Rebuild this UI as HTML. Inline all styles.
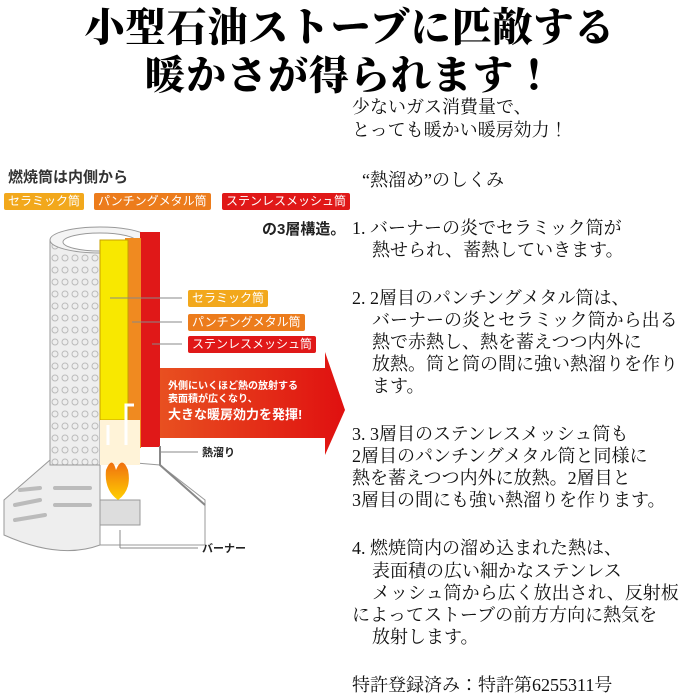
<!DOCTYPE html>
<html><head><meta charset="utf-8"><style>
body{margin:0;width:700px;height:700px;background:#fff;overflow:hidden;position:relative;font-family:"Liberation Serif","Noto Serif CJK JP","Noto Serif CJK SC",serif;}
.t{position:absolute;left:0;width:700px;text-align:center;font-weight:900;font-size:40px;line-height:40px;color:#000;letter-spacing:1px}
.l{position:absolute;font-size:18px;line-height:20px;white-space:nowrap;color:#111}
.s{position:absolute;font-family:"Liberation Sans","Noto Sans CJK JP",sans-serif;white-space:nowrap}
.tag{position:absolute;font-family:"Liberation Sans","Noto Sans CJK JP",sans-serif;font-size:12px;line-height:17px;color:#fff;padding:0 4px;border-radius:2px;white-space:nowrap}
</style></head><body>
<div class="t" style="top:8px">小型石油ストーブに匹敵する</div>
<div class="t" style="top:56px">暖かさが得られます！</div>

<svg style="position:absolute;left:0;top:0" width="350" height="560">
<defs>
<pattern id="dots" width="10" height="12" patternUnits="userSpaceOnUse"><rect width="10" height="12" fill="#eee"/><circle cx="5" cy="6" r="3" fill="none" stroke="#bbb" stroke-width="1"/></pattern>
<linearGradient id="ar" x1="0" x2="1"><stop offset="0" stop-color="#e85020"/><stop offset="1" stop-color="#e01010"/></linearGradient>
<linearGradient id="fl" x1="0" y1="0" x2="0" y2="1"><stop offset="0" stop-color="#f07010"/><stop offset="1" stop-color="#ffd000"/></linearGradient>
</defs>
<path d="M50 460 L4 500 L4 535 Q60 560 100 545 L100 460Z" fill="#eee" stroke="#999"/>
<path d="M100 460 L100 545 L205 545 L205 500 L160 465Z" fill="#fff" stroke="#999"/>
<rect x="100" y="500" width="40" height="25" fill="#ddd" stroke="#999"/>
<g stroke="#bbb" stroke-width="4" fill="none" stroke-linecap="round"><path d="M20 490 L40 488"/><path d="M15 505 L40 500"/><path d="M15 520 L45 515"/><path d="M55 488 L90 488"/><path d="M55 505 L90 505"/></g>
<path d="M50 240 L50 465 L100 465 L100 232 Q60 230 50 240Z" fill="url(#dots)" stroke="#999"/>
<ellipse cx="100" cy="240" rx="50" ry="13" fill="#f4f4f4" stroke="#999"/>
<ellipse cx="100" cy="242" rx="37" ry="9" fill="#fff" stroke="#999"/>
<rect x="140" y="232" width="20" height="215" fill="#e01818"/>
<rect x="125" y="238" width="16" height="210" fill="#f08a20"/>
<rect x="100" y="240" width="28" height="180" fill="#f8e800" stroke="#c8a000"/>
<rect x="100" y="420" width="40" height="45" fill="#fff3d8"/>
<path d="M160 446 L160 465 L205 505" fill="none" stroke="#888" stroke-width="2"/>
<path d="M160 368 L325 368 L325 352 L345 410 L325 455 L325 438 L160 438Z" fill="url(#ar)"/>
<path d="M106 470 Q112 455 116 470 Q122 455 128 470 Q132 490 118 500 Q104 490 106 470Z" fill="url(#fl)"/>
<g stroke="#fff" stroke-width="3" fill="none"><path d="M108 445 L108 425"/><path d="M126 445 L126 405 L134 405"/></g>
<g stroke="#888" stroke-width="1"><line x1="110" y1="298" x2="182" y2="298"/><line x1="132" y1="322" x2="182" y2="322"/><line x1="152" y1="344" x2="182" y2="344"/><line x1="160" y1="452" x2="198" y2="452"/><line x1="120" y1="530" x2="120" y2="548"/><line x1="120" y1="548" x2="198" y2="548"/></g>
</svg>

<div class="s" style="left:8px;top:166px;font-size:15px;font-weight:bold;color:#333">燃焼筒は内側から</div>
<div class="tag" style="left:4px;top:193px;background:#f2a81c">セラミック筒</div>
<div class="tag" style="left:94px;top:193px;background:#ec7c1c">パンチングメタル筒</div>
<div class="tag" style="left:222px;top:193px;background:#e01818">ステンレスメッシュ筒</div>
<div class="s" style="left:262px;top:218px;font-size:15px;font-weight:bold;color:#222">の3層構造。</div>
<div class="tag" style="left:188px;top:290px;background:#f2a81c">セラミック筒</div>
<div class="tag" style="left:188px;top:314px;background:#ec7c1c">パンチングメタル筒</div>
<div class="tag" style="left:188px;top:336px;background:#e01818">ステンレスメッシュ筒</div>
<div class="s" style="left:168px;top:380px;font-size:10px;line-height:13px;color:#fff;font-weight:bold">外側にいくほど熱の放射する<br>表面積が広くなり、<br><span style="font-size:13px;line-height:18px">大きな暖房効力を発揮!</span></div>
<div class="s" style="left:202px;top:444px;font-size:11px;font-weight:bold;color:#222">熱溜り</div>
<div class="s" style="left:202px;top:540px;font-size:11px;font-weight:bold;color:#222">バーナー</div>

<div class="l" style="left:352px;top:97px">少ないガス消費量で、</div>
<div class="l" style="left:352px;top:120px">とっても暖かい暖房効力！</div>
<div class="l" style="left:362px;top:170px">“熱溜め”のしくみ</div>
<div class="l" style="left:352px;top:218px">1. バーナーの炎でセラミック筒が</div>
<div class="l" style="left:372px;top:240px">熱せられ、蓄熱していきます。</div>
<div class="l" style="left:352px;top:288px">2. 2層目のパンチングメタル筒は、</div>
<div class="l" style="left:372px;top:310px">バーナーの炎とセラミック筒から出る</div>
<div class="l" style="left:372px;top:332px">熱で赤熱し、熱を蓄えつつ内外に</div>
<div class="l" style="left:372px;top:354px">放熱。筒と筒の間に強い熱溜りを作り</div>
<div class="l" style="left:372px;top:376px">ます。</div>
<div class="l" style="left:352px;top:424px">3. 3層目のステンレスメッシュ筒も</div>
<div class="l" style="left:352px;top:446px">2層目のパンチングメタル筒と同様に</div>
<div class="l" style="left:352px;top:468px">熱を蓄えつつ内外に放熱。2層目と</div>
<div class="l" style="left:352px;top:490px">3層目の間にも強い熱溜りを作ります。</div>
<div class="l" style="left:352px;top:538px">4. 燃焼筒内の溜め込まれた熱は、</div>
<div class="l" style="left:372px;top:561px">表面積の広い細かなステンレス</div>
<div class="l" style="left:372px;top:583px">メッシュ筒から広く放出され、反射板</div>
<div class="l" style="left:352px;top:605px">によってストーブの前方方向に熱気を</div>
<div class="l" style="left:372px;top:627px">放射します。</div>
<div class="l" style="left:352px;top:675px">特許登録済み：特許第6255311号</div>
</body></html>
